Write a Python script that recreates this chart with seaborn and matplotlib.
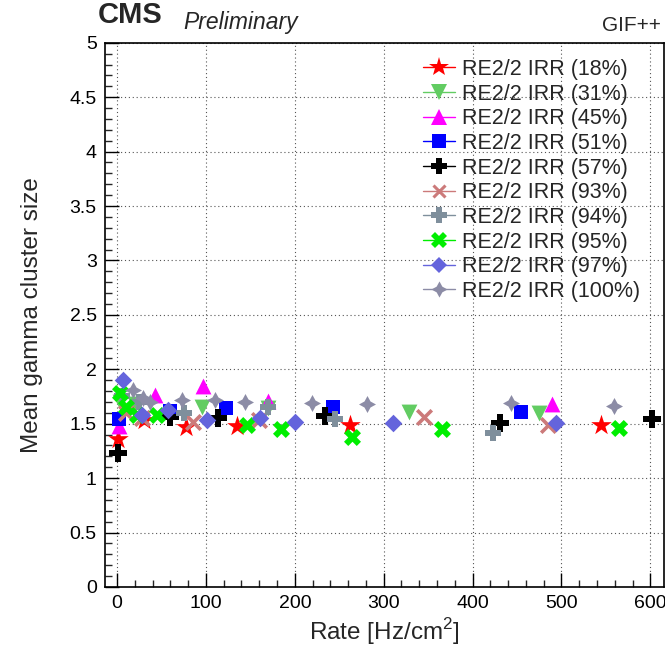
import numpy as np
import pandas as pd
import matplotlib
matplotlib.use("Agg")
import matplotlib.pyplot as plt
from matplotlib.lines import Line2D
from matplotlib.ticker import MultipleLocator, FormatStrFormatter
import seaborn as sns

labels = ["RE2/2 IRR (18%)", "RE2/2 IRR (31%)", "RE2/2 IRR (45%)", "RE2/2 IRR (51%)",
          "RE2/2 IRR (57%)", "RE2/2 IRR (93%)", "RE2/2 IRR (94%)", "RE2/2 IRR (95%)",
          "RE2/2 IRR (97%)", "RE2/2 IRR (100%)"]

rate_18 = [1, 30, 78, 135, 262, 545]
cls_18 = [1.36, 1.53, 1.47, 1.48, 1.49, 1.49]
rate_31 = [3, 20, 95, 170, 329, 475]
cls_31 = [1.70, 1.68, 1.65, 1.64, 1.61, 1.60]
rate_45 = [2, 43, 97, 170, 489]
cls_45 = [1.48, 1.76, 1.85, 1.71, 1.68]
rate_51 = [2, 60, 122, 243, 455]
cls_51 = [1.54, 1.62, 1.64, 1.65, 1.61]
rate_57 = [1, 60, 113, 234, 431, 602]
cls_57 = [1.23, 1.56, 1.55, 1.57, 1.51, 1.54]
rate_93 = [10, 28, 85, 160, 345, 485]
cls_93 = [1.60, 1.55, 1.52, 1.53, 1.56, 1.49]
rate_94 = [5, 25, 75, 170, 245, 423]
cls_94 = [1.75, 1.70, 1.60, 1.65, 1.54, 1.41]
rate_95 = [3, 10, 22, 45, 146, 185, 264, 366, 565]
cls_95 = [1.78, 1.65, 1.58, 1.58, 1.49, 1.45, 1.38, 1.45, 1.46]
rate_97 = [7, 28, 57, 101, 161, 200, 310, 494]
cls_97 = [1.90, 1.58, 1.63, 1.53, 1.55, 1.52, 1.51, 1.51]
rate_100 = [18, 29, 37, 73, 110, 144, 219, 281, 443, 559]
cls_100 = [1.81, 1.74, 1.70, 1.72, 1.72, 1.70, 1.69, 1.68, 1.69, 1.66]

rates = [rate_18, rate_31, rate_45, rate_51, rate_57, rate_93, rate_94, rate_95, rate_97, rate_100]
sizes_cl = [cls_18, cls_31, cls_45, cls_51, cls_57, cls_93, cls_94, cls_95, cls_97, cls_100]

colors = ["#ff0000", "#62cc62", "#ff00ff", "#0000ff", "#000000",
          "#cc7a7a", "#7f8f9c", "#00ee00", "#6464dc", "#8c8ca6"]
markers = ["*", "v", "^", "s", "P", "x", "P", "X", "D", (4, 1, 0)]
msizes = [240, 130, 130, 110, 150, 110, 130, 150, 80, 150]

rows = []
for lab, r, c in zip(labels, rates, sizes_cl):
    for a, b in zip(r, c):
        rows.append((lab, a, b))
df = pd.DataFrame(rows, columns=["series", "rate", "cls"])

sns.set_style("white")
plt.rcParams["font.family"] = ["Liberation Sans", "DejaVu Sans"]
plt.rcParams["mathtext.fontset"] = "custom"
plt.rcParams["mathtext.rm"] = "Liberation Sans"

fig = plt.figure(figsize=(6.65, 6.58), dpi=100)
ax = fig.add_axes([0.158, 0.108, 0.84, 0.827])

for i, lab in enumerate(labels):
    sub = df[df["series"] == lab]
    kw = dict(linewidth=0)
    if markers[i] == "x":
        kw = dict(linewidth=2.6)
    sns.scatterplot(data=sub, x="rate", y="cls", ax=ax, color=colors[i],
                    marker=markers[i], s=msizes[i], legend=False, zorder=3 + i * 0.01, **kw)

ax.set_xlim(-13.5, 615)
ax.set_ylim(0, 5)
ax.xaxis.set_major_locator(MultipleLocator(100))
ax.xaxis.set_minor_locator(MultipleLocator(20))
ax.yaxis.set_major_locator(MultipleLocator(0.5))
ax.yaxis.set_minor_locator(MultipleLocator(0.1))
ax.yaxis.set_major_formatter(FormatStrFormatter("%g"))
ax.grid(True, which="major", color="#555555", linestyle=(0, (1, 2.5)), linewidth=0.8)
ax.tick_params(axis="both", which="major", direction="in", length=10, width=1,
               labelsize=14, colors="black", pad=6)
ax.tick_params(axis="both", which="minor", direction="in", length=5, width=1)
ax.tick_params(axis="x", which="both", bottom=True)
ax.tick_params(axis="y", which="both", left=True)
for sp in ax.spines.values():
    sp.set_color("black")
    sp.set_linewidth(1.2)

ax.set_xlabel(r"Rate [Hz/cm$^{2}$]", fontsize=17.5, labelpad=3)
ax.set_ylabel("Mean gamma cluster size", fontsize=17.5, labelpad=19)

fig.text(98 / 665, 1 - 23 / 658, "CMS", fontsize=21, fontweight="bold", va="baseline")
fig.text(183 / 665, 1 - 29 / 658, "Preliminary", fontsize=16.5, fontstyle="italic", va="baseline")
fig.text(661 / 665, 1 - 31 / 658, "GIF++", fontsize=15, ha="right", va="baseline")

handles = []
for i, lab in enumerate(labels):
    mk = markers[i]
    ms = np.sqrt(msizes[i]) * 0.95
    if mk == "x":
        h = Line2D([], [], color=colors[i], marker=mk, markersize=ms * 0.9, markeredgewidth=2.2,
                   linewidth=1.0)
    else:
        h = Line2D([], [], color=colors[i], marker=mk, markersize=ms, markeredgewidth=0,
                   linewidth=1.0)
    handles.append(h)

fig.legend(handles, labels, loc="upper left", bbox_to_anchor=(423 / 665, 1 - 59 / 658),
           frameon=False, fontsize=15.5, handlelength=1.5, handletextpad=0.3,
           labelspacing=0.17, borderpad=0, borderaxespad=0)

fig.savefig("out.png", dpi=100)
